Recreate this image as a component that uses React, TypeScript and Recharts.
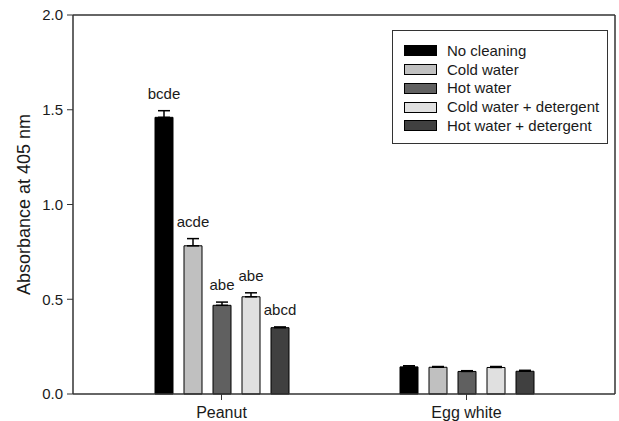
import React from 'react';
import { BarChart, Bar, XAxis, YAxis, ErrorBar, LabelList, Legend } from 'recharts';

const categories = ['Peanut', 'Egg white'];
const seriesNames = ['No cleaning', 'Cold water', 'Hot water', 'Cold water + detergent', 'Hot water + detergent'];
const seriesColors = ['#000000', '#c0c0c0', '#606060', '#e0e0e0', '#404040'];

const noCleaning = [1.46, 0.143];
const noCleaningErr = [0.035, 0.006];
const coldWater = [0.782, 0.141];
const coldWaterErr = [0.038, 0.004];
const hotWater = [0.468, 0.119];
const hotWaterErr = [0.017, 0.004];
const coldDetergent = [0.513, 0.14];
const coldDetergentErr = [0.021, 0.005];
const hotDetergent = [0.35, 0.12];
const hotDetergentErr = [0.004, 0.005];

const noCleaningLab = ['bcde', ''];
const coldWaterLab = ['acde', ''];
const hotWaterLab = ['abe', ''];
const coldDetergentLab = ['abe', ''];
const hotDetergentLab = ['abcd', ''];

const yTicks = [0, 0.5, 1.0, 1.5, 2.0];

const seriesVals = [noCleaning, coldWater, hotWater, coldDetergent, hotDetergent];
const seriesErrs = [noCleaningErr, coldWaterErr, hotWaterErr, coldDetergentErr, hotDetergentErr];
const seriesLabs = [noCleaningLab, coldWaterLab, hotWaterLab, coldDetergentLab, hotDetergentLab];

const data = categories.map((cat, i) => {
  const row: any = { cat };
  seriesVals.forEach((vals, s) => {
    row['v' + s] = vals[i];
    row['e' + s] = [0, seriesErrs[s][i]];
    row['l' + s] = seriesLabs[s][i];
  });
  return row;
});

const FONT = '"Liberation Sans", Arial, sans-serif';

const makeLabel = (vals: number[], errs: number[]) => (p: any) => {
  const { x, y, width, height, value, index } = p;
  if (!value) return null;
  const ppu = Number(height) / vals[index];
  const top = Number(y) - errs[index] * ppu;
  return (
    <text x={Number(x) + Number(width) / 2} y={top - 12} textAnchor="middle" fontSize={15} fontFamily={FONT} fill="#1a1a1a">
      {value}
    </text>
  );
};

const renderLegend = () => (
  <div
    style={{
      width: 216,
      height: 114,
      border: '1.5px solid #333',
      boxSizing: 'border-box',
      background: '#fff',
      paddingTop: 10.5,
      fontFamily: FONT,
      fontSize: 15,
      color: '#1a1a1a',
    }}
  >
    {seriesNames.map((n, i) => (
      <div key={n} style={{ display: 'flex', alignItems: 'center', height: 18.75 }}>
        <div
          style={{
            marginLeft: 11,
            width: 33,
            height: 11,
            background: seriesColors[i],
            border: '1px solid #000',
            boxSizing: 'border-box',
          }}
        />
        <span style={{ marginLeft: 10, lineHeight: '18px' }}>{n}</span>
      </div>
    ))}
  </div>
);

const YLabel = (p: any) => {
  const vb = p.viewBox || { x: 0, y: 15, width: 73, height: 379 };
  const cx = vb.x + 24;
  const cy = vb.y + vb.height / 2;
  return (
    <text
      x={cx}
      y={cy}
      transform={`rotate(-90, ${cx}, ${cy})`}
      textAnchor="middle"
      dominantBaseline="central"
      fontSize={18}
      fontFamily={FONT}
      fill="#1a1a1a"
    >
      Absorbance at 405 nm
    </text>
  );
};

export default function App() {
  return (
    <div style={{ position: 'absolute', left: 0, top: 0, width: 619, height: 421, background: '#fff' }}>
      <BarChart
        width={619}
        height={421}
        data={data}
        margin={{ top: 14, right: 3, left: 0, bottom: 0 }}
        barSize={18}
        barGap={11}
      >
        <XAxis
          dataKey="cat"
          height={27}
          padding={{ left: 26, right: 26 }}
          tickSize={6}
          tickMargin={7}
          axisLine={{ stroke: '#333', strokeWidth: 1.5 }}
          tickLine={{ stroke: '#333', strokeWidth: 1 }}
          tick={{ fontSize: 16, fontFamily: FONT, fill: '#1a1a1a' }}
        />
        <XAxis
          xAxisId="top"
          orientation="top"
          dataKey="cat"
          height={1}
          padding={{ left: 26, right: 26 }}
          tick={false}
          tickLine={false}
          axisLine={{ stroke: '#333', strokeWidth: 1.5 }}
        />
        <YAxis
          domain={[0, 2]}
          ticks={yTicks}
          width={73}
          tickSize={6}
          tickMargin={4}
          interval={0}
          tickFormatter={(v: number) => v.toFixed(1)}
          axisLine={{ stroke: '#333', strokeWidth: 1.5 }}
          tickLine={{ stroke: '#333', strokeWidth: 1 }}
          tick={{ fontSize: 15, fontFamily: FONT, fill: '#1a1a1a' }}
          label={{ content: YLabel }}
        />
        <YAxis
          yAxisId="right"
          orientation="right"
          domain={[0, 2]}
          width={1}
          tick={false}
          tickLine={false}
          axisLine={{ stroke: '#333', strokeWidth: 1.5 }}
        />
        <Legend
          layout="vertical"
          align="center"
          verticalAlign="middle"
          wrapperStyle={{ left: 392, top: 30, width: 216, height: 114 }}
          content={renderLegend}
        />
        {seriesNames.map((n, s) => (
          <Bar
            key={n}
            dataKey={'v' + s}
            name={n}
            fill={seriesColors[s]}
            stroke="#000"
            strokeWidth={1}
            isAnimationActive={false}
          >
            <ErrorBar dataKey={'e' + s} direction="y" width={6} stroke="#000" strokeWidth={1.5} />
            <LabelList dataKey={'l' + s} content={makeLabel(seriesVals[s], seriesErrs[s])} />
          </Bar>
        ))}
        <Bar
          xAxisId="top"
          yAxisId="right"
          dataKey="v0"
          fill="none"
          stroke="none"
          legendType="none"
          isAnimationActive={false}
        />
      </BarChart>
    </div>
  );
}
